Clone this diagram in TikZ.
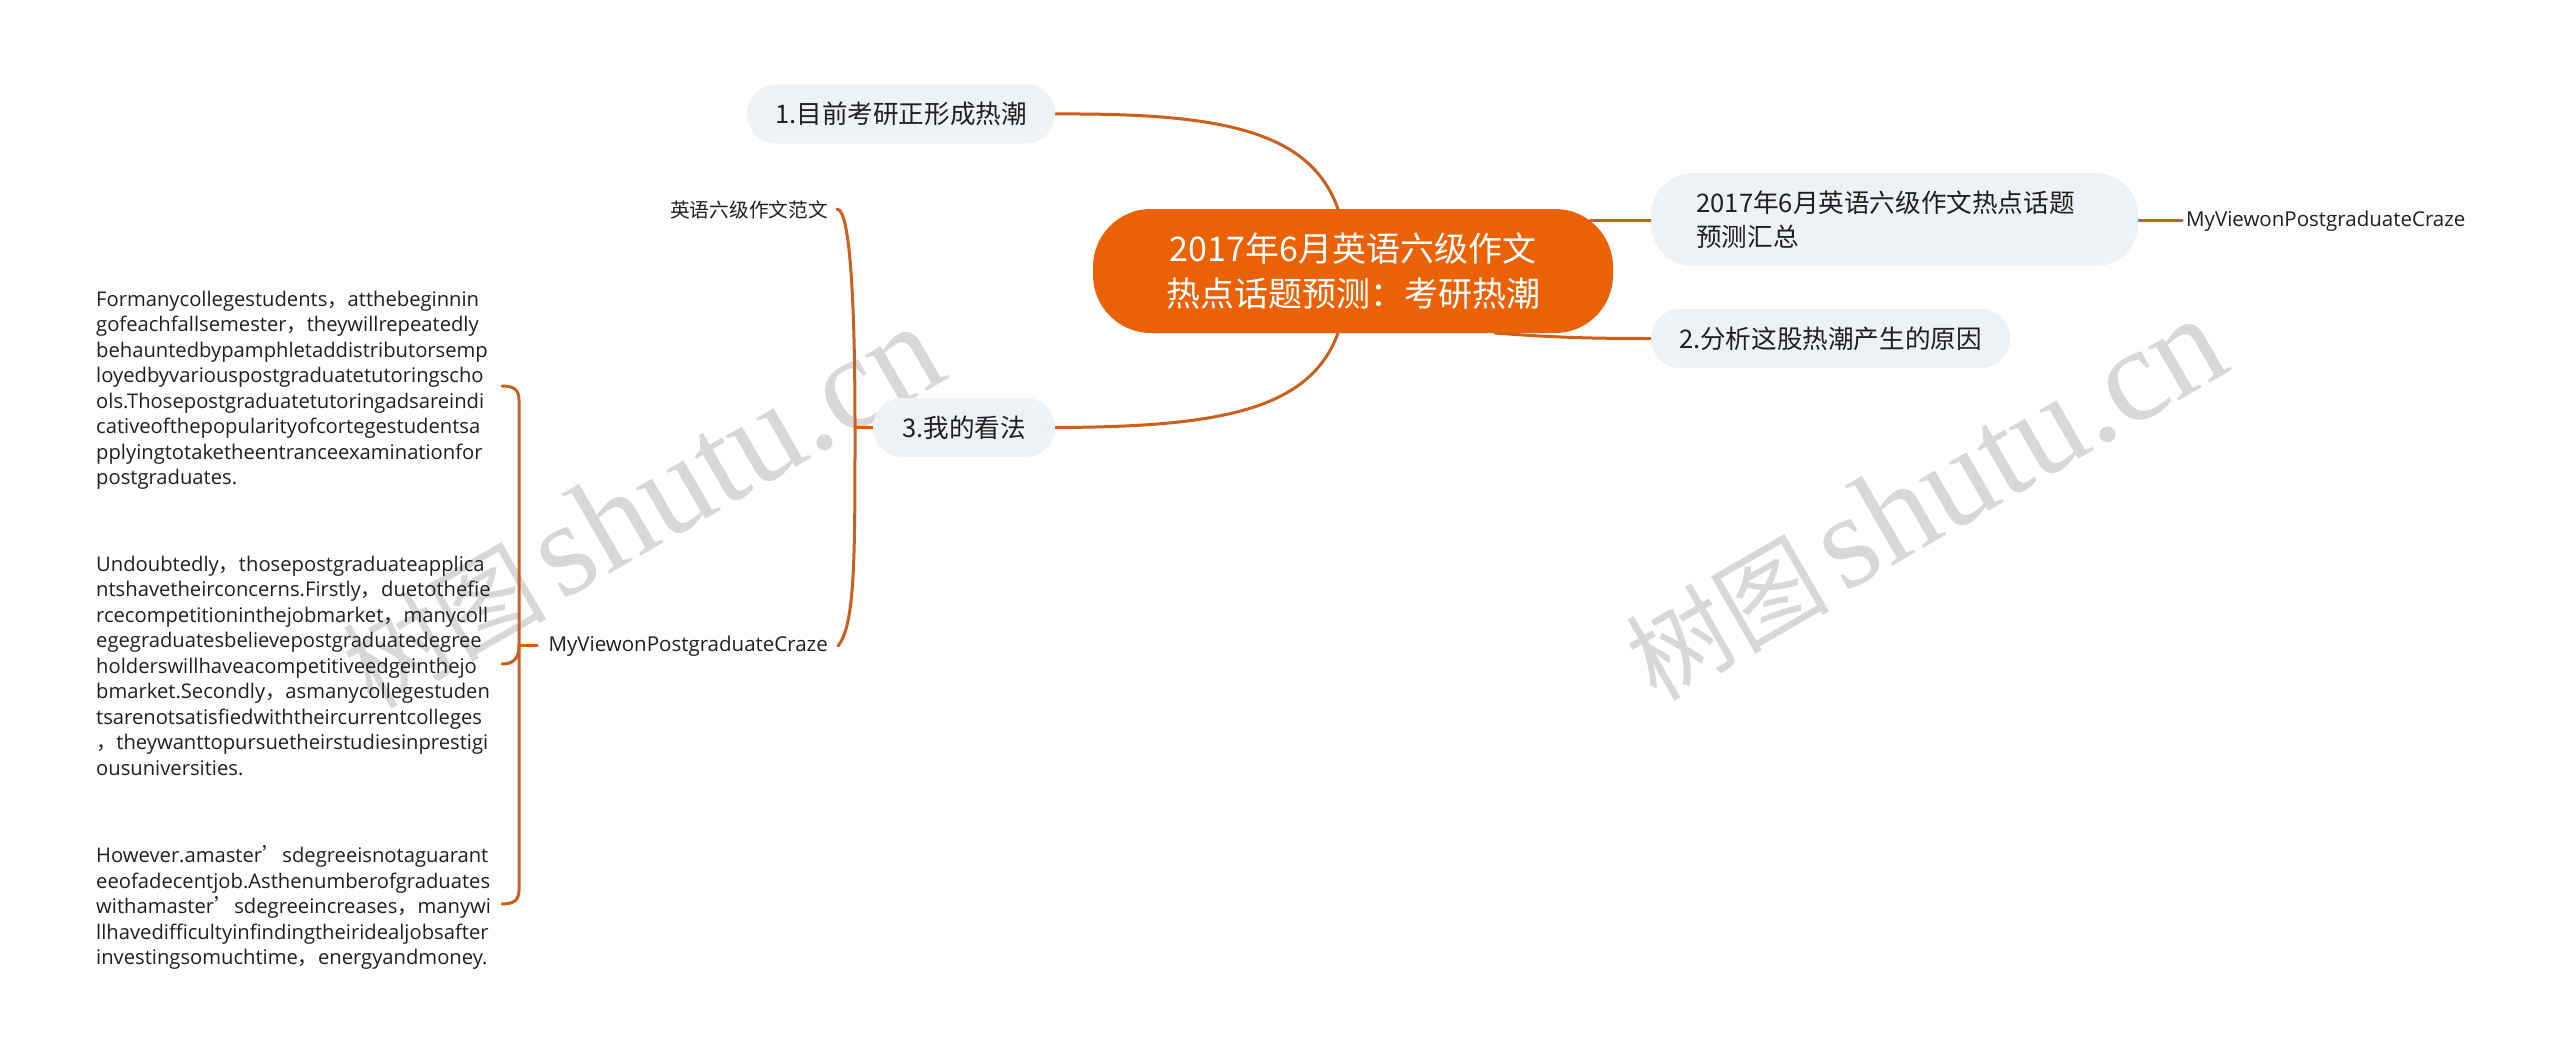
\documentclass[tikz,border=0pt]{standalone}
\usepackage{fontspec}
\setmainfont{Open Sans}
\newfontfamily\cjk{Noto Sans CJK SC}
\newfontfamily\wmlat{Liberation Serif}
\pgfdeclarelayer{bg}
\pgfsetlayers{bg,main}
\definecolor{rootorange}{HTML}{EA6205}
\definecolor{linkorange}{HTML}{CC5F1B}
\definecolor{pillfill}{HTML}{EEF1F5}
\definecolor{ink}{HTML}{1F1F1F}
\definecolor{wmgray}{HTML}{D8D8D8}
\newcommand{\cm}{{\cjk ，}}
\newcommand{\fs}[1]{\fontsize{#1}{#1}\selectfont}
\newcommand{\wmtext}{{\cjk\fontsize{102}{102}\selectfont 树图}\hspace{14pt}{\wmlat\fontsize{134}{134}\selectfont shutu.cn}}
\tikzset{
  x=1pt,y=-1pt,
  pill/.style={fill=pillfill,rounded corners=29pt,minimum height=59pt,inner sep=0pt,text=ink,font=\cjk\fs{25.6}},
  leaf/.style={inner sep=0pt,text=ink},
  para/.style={inner sep=0pt,text=ink,anchor=north west,align=left,font=\fontsize{20.2}{25.5}\selectfont},
  link/.style={draw=linkorange,line width=3pt,line cap=round},
  wm/.style={text=wmgray,rotate=30,inner sep=0pt,anchor=base west},
}
\begin{document}
\lineskiplimit=-100pt
\begin{tikzpicture}
\useasboundingbox (0,0) rectangle (2560,1063);

% nodes
\node[fill=rootorange,rounded corners=58pt,minimum width=520pt,minimum height=124pt,inner sep=0pt,text=white,align=center,font=\cjk\fontsize{34}{45}\selectfont] (root) at (1353,271)
  {2017年6月英语六级作文\\热点话题预测：考研热潮};
\node[pill,minimum width=308pt] (n1) at (901,114) {1.目前考研正形成热潮};
\node[pill,minimum width=182pt] (n3) at (964,427.5) {3.我的看法};
\node[pill,minimum width=359pt] (n2) at (1830.5,338.5) {2.分析这股热潮产生的原因};
\node[pill,rounded corners=42pt,minimum width=487pt,minimum height=93pt,align=left,font=\cjk\fontsize{25.6}{34}\selectfont] (n4) at (1894.5,219.5)
  {2017年6月英语六级作文热点话题\rule{18pt}{0pt}\\预测汇总};
\node[leaf,anchor=west,font=\fs{20.5}] (rv) at (2186,221) {MyViewonPostgraduateCraze};
\node[leaf,anchor=east,font=\cjk\fs{19.7}] (fw) at (828,210) {英语六级作文范文};
\node[leaf,anchor=east,font=\fs{20.5}] (mv) at (828,646) {MyViewonPostgraduateCraze};

\node[para] (p1) at (96,290.5) {Formanycollegestudents\cm atthebeginnin\\gofeachfallsemester\cm theywillrepeatedly\\behauntedbypamphletaddistributorsemp\\loyedbyvariouspostgraduatetutoringscho\\ols.Thosepostgraduatetutoringadsareindi\\cativeofthepopularityofcortegestudentsa\\pplyingtotaketheentranceexaminationfor\\postgraduates.};
\node[para] (p2) at (96,555.5) {Undoubtedly\cm thosepostgraduateapplica\\ntshavetheirconcerns.Firstly\cm duetothefie\\rcecompetitioninthejobmarket\cm manycoll\\egegraduatesbelievepostgraduatedegree\\holderswillhaveacompetitiveedgeinthejo\\bmarket.Secondly\cm asmanycollegestuden\\tsarenotsatisfiedwiththeircurrentcolleges\\\cm theywanttopursuetheirstudiesinprestigi\\ousuniversities.};
\node[para] (p3) at (96,845.5) {However.amaster{\cjk ’}sdegreeisnotaguarant\\eeofadecentjob.Asthenumberofgraduates\\withamaster{\cjk ’}sdegreeincreases\cm manywi\\llhavedifficultyinfindingtheiridealjobsafter\\investingsomuchtime\cm energyandmoney.};

\coordinate (topin) at (1338,209);
\coordinate (botin) at (1338,333);
\coordinate (trunkR) at (855,427.5);
\coordinate (trunkL) at (519,645);
\coordinate (fwend) at (837,209);
\coordinate (mvend) at (838,646);
\coordinate (p1end) at (502,386);
\coordinate (p2end) at (502,664);
\coordinate (p3end) at (502,904);
\coordinate (r4) at (1590,220);
\coordinate (r2) at (1495,333);
\coordinate (rvs) at (2182,220);
\coordinate (mvs) at (537,645);

\begin{pgfonlayer}{bg}
\node[wm] (wm1) at (373,711) {\wmtext};
\node[wm] (wm2) at (1656,703) {\wmtext};
\draw[link] (r4) -- (n4.west |- r4);
\draw[link] (n4.east |- rvs) -- (rvs);
\draw[link] (r2) .. controls (1560,338) and (1600,338.5) .. (n2.west);
\draw[link] (n1.east) .. controls (1220,113) and (1310,130) .. (topin);
\draw[link] (n3.east) .. controls (1220,427) and (1310,410) .. (botin);
\draw[link] (n3.west) -- (trunkR);
\draw[link] (fwend) .. controls (850,209) and (855,300) .. (trunkR);
\draw[link] (trunkR) .. controls (855,560) and (855,625) .. (mvend);
\draw[link] (mvs) -- (trunkL);
\draw[link] (p1end) .. controls (514,386) and (519,390) .. (519,400) -- (trunkL);
\draw[link] (p2end) .. controls (514,664) and (519,658) .. (trunkL);
\draw[link] (p3end) .. controls (514,904) and (519,900) .. (519,890) -- (trunkL);
\end{pgfonlayer}
\end{tikzpicture}
\end{document}
